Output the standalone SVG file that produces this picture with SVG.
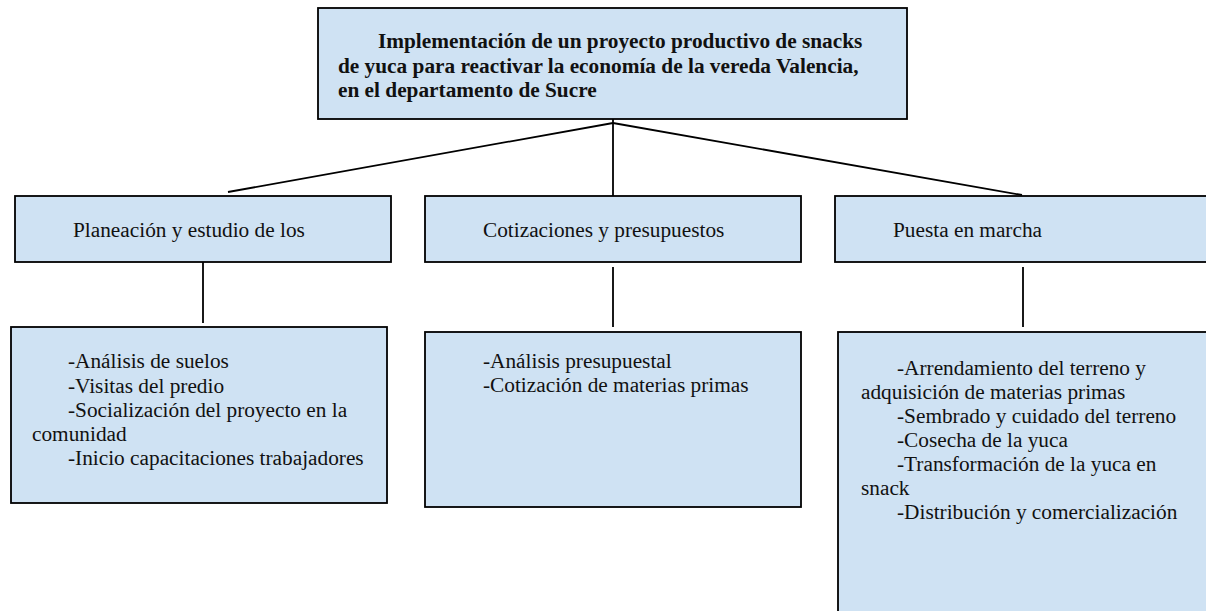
<svg xmlns="http://www.w3.org/2000/svg" width="1206" height="611" viewBox="0 0 1206 611">
<style>
.box{fill:#cfe2f3;stroke:#000;stroke-width:1.8}
.t{font-family:"Liberation Serif","Times New Roman",serif;font-size:21.3px;fill:#111}
.b{font-weight:bold}
.c{stroke:#000;stroke-width:1.8;fill:none}
</style>
<rect width="1206" height="611" fill="#fff"/>
<g id="connectors">
<line class="c" x1="613" y1="123" x2="228" y2="192"/>
<line class="c" x1="613" y1="123" x2="1022" y2="195"/>
<line class="c" x1="613" y1="119" x2="613" y2="196"/>
<line class="c" x1="203" y1="262" x2="203" y2="323"/>
<line class="c" x1="613" y1="267" x2="613" y2="327"/>
<line class="c" x1="1023" y1="267" x2="1023" y2="327"/>
</g>
<g id="root">
<rect class="box" x="318" y="8" width="589" height="111"/>
<text class="t b" x="378" y="48">Implementación de un proyecto productivo de snacks</text>
<text class="t b" x="338" y="73">de yuca para reactivar la economía de la vereda Valencia,</text>
<text class="t b" x="338" y="97">en el departamento de Sucre</text>
</g>
<g id="planeacion">
<rect class="box" x="15" y="196" width="376" height="66"/>
<text class="t" x="73" y="237">Planeación y estudio de los</text>
</g>
<g id="cotizaciones">
<rect class="box" x="425" y="196" width="376" height="66"/>
<text class="t" x="483" y="237">Cotizaciones y presupuestos</text>
</g>
<g id="puesta">
<rect class="box" x="835" y="196" width="400" height="66"/>
<text class="t" x="893" y="237">Puesta en marcha</text>
</g>
<g id="planeacion-detalle">
<rect class="box" x="11" y="327" width="376" height="176"/>
<text class="t" x="68" y="368">-Análisis de suelos</text>
<text class="t" x="68" y="392.5">-Visitas del predio</text>
<text class="t" x="68" y="416.8">-Socialización del proyecto en la</text>
<text class="t" x="32" y="441">comunidad</text>
<text class="t" x="68" y="465.3">-Inicio capacitaciones trabajadores</text>
</g>
<g id="cotizaciones-detalle">
<rect class="box" x="425" y="332" width="376" height="175"/>
<text class="t" x="483" y="367.5">-Análisis presupuestal</text>
<text class="t" x="483" y="392">-Cotización de materias primas</text>
</g>
<g id="puesta-detalle">
<rect class="box" x="838" y="332" width="400" height="300"/>
<text class="t" x="897" y="375">-Arrendamiento del terreno y</text>
<text class="t" x="861" y="399">adquisición de materias primas</text>
<text class="t" x="897" y="423">-Sembrado y cuidado del terreno</text>
<text class="t" x="897" y="447">-Cosecha de la yuca</text>
<text class="t" x="897" y="471">-Transformación de la yuca en</text>
<text class="t" x="861" y="495">snack</text>
<text class="t" x="897" y="519">-Distribución y comercialización</text>
</g>
</svg>
